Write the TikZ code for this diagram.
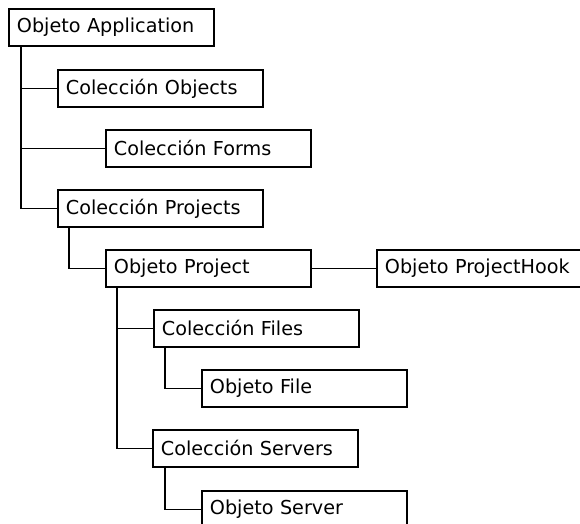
\documentclass[tikz,border=0pt]{standalone}
\usepackage{fontspec}
\setmainfont{DejaVu Sans}
\begin{document}
\begin{tikzpicture}[x=1pt,y=-1pt,
  objbox/.style={draw, line width=1.8pt, anchor=north west, inner xsep=8pt,
    inner ysep=0pt, text width=189pt, align=left, minimum height=37pt,
    font=\fontsize{19.2}{21}\selectfont},
  link/.style={line width=1.8pt}]
  \clip (0,0) rectangle (580,523);
  \fill[white] (0,0) rectangle (580,523);

  % object boxes
  \node[objbox] (app)      at (8,8)     {Objeto Application};
  \node[objbox] (objects)  at (57,69)   {Colección Objects};
  \node[objbox] (forms)    at (105,129) {Colección Forms};
  \node[objbox] (projects) at (57,189)  {Colección Projects};
  \node[objbox] (project)  at (105,249) {Objeto Project};
  \node[objbox, text width=200pt] (hook) at (376,249) {Objeto ProjectHook};
  \node[objbox] (files)    at (153,309) {Colección Files};
  \node[objbox] (file)     at (201,369) {Objeto File};
  \node[objbox] (servers)  at (152,429) {Colección Servers};
  \node[objbox] (server)   at (201,490) {Objeto Server};

  % tree connectors
  \coordinate (t1) at ([xshift=13pt]app.south west);
  \draw[link] (t1) |- (projects.west);
  \draw[link] (t1 |- objects.west) -- (objects.west);
  \draw[link] (t1 |- forms.west) -- (forms.west);

  \coordinate (t2) at ([xshift=12pt]projects.south west);
  \draw[link] (t2) |- (project.west);
  \draw[link] (project.east) -- (hook.west);

  \coordinate (t3) at ([xshift=12pt]project.south west);
  \draw[link] (t3) |- (servers.west);
  \draw[link] (t3 |- files.west) -- (files.west);

  \coordinate (t4) at ([xshift=12pt]files.south west);
  \draw[link] (t4) |- (file.west);

  \coordinate (t5) at ([xshift=13pt]servers.south west);
  \draw[link] (t5) |- (server.west);
\end{tikzpicture}
\end{document}
